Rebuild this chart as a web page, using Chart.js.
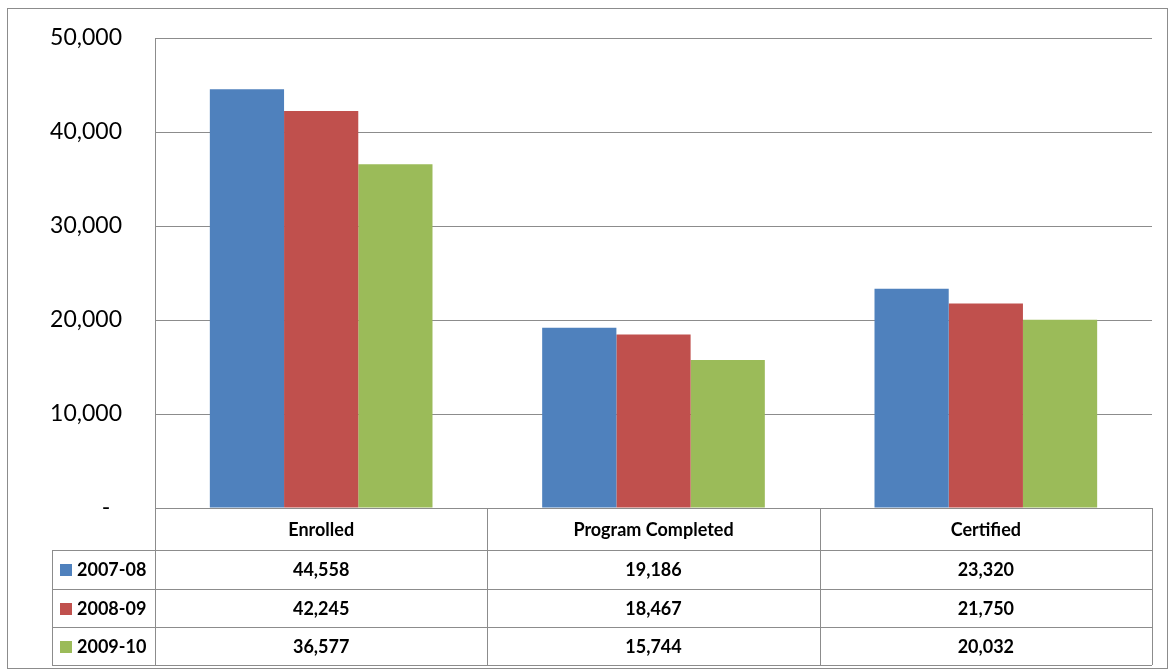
<!DOCTYPE html>
<html>
<head>
<meta charset="utf-8">
<script src="https://cdn.jsdelivr.net/npm/chart.js@4.4.0/dist/chart.umd.min.js"></script>
<style>
  html, body { margin: 0; padding: 0; background: #fff; }
  #wrap { width: 1169px; height: 670px; position: relative; }
</style>
</head>
<body>
<div id="wrap"><canvas id="chartProgramas"></canvas></div>
<script>
var CATEGORIAS = ['Enrolled', 'Program Completed', 'Certified'];
var SERIES = ['2007-08', '2008-09', '2009-10'];
var VALORES_0708 = [44558, 19186, 23320];
var VALORES_0809 = [42245, 18467, 21750];
var VALORES_0910 = [36577, 15744, 20032];
var Y_MAX = 50000;
var Y_PASO = 10000;

var COLORES = ['#4F81BD', '#C0504D', '#9BBB59'];
var GRIS = '#8c8c8c';
var FUENTE = 'Lato, "Open Sans", sans-serif';

function fmtNum(v) {
  if (v === 0) return '-';
  return v.toLocaleString('en-US');
}

// Marco exterior + tabla de datos bajo el eje X
var tablaDatos = {
  id: 'tablaDatos',
  afterDraw: function(chart) {
    var ctx = chart.ctx;
    var area = chart.chartArea;
    var xs = chart.scales.x;
    var ancho = (area.right - area.left) / CATEGORIAS.length;
    var filas = [area.bottom, 550, 588.5, 627, 665];
    var izqLeyenda = 52;
    var valores = [VALORES_0708, VALORES_0809, VALORES_0910];

    ctx.save();
    ctx.strokeStyle = GRIS;
    ctx.lineWidth = 1;

    // marco exterior
    ctx.strokeRect(7.5, 8.5, 1160, 660);

    // líneas horizontales
    ctx.beginPath();
    ctx.moveTo(area.left, filas[0] + 0.5);
    ctx.lineTo(area.right, filas[0] + 0.5);
    for (var r = 1; r < filas.length; r++) {
      ctx.moveTo(izqLeyenda, Math.round(filas[r]) + 0.5);
      ctx.lineTo(area.right, Math.round(filas[r]) + 0.5);
    }
    // líneas verticales
    ctx.moveTo(izqLeyenda + 0.5, filas[1]);
    ctx.lineTo(izqLeyenda + 0.5, filas[4]);
    for (var c = 0; c <= CATEGORIAS.length; c++) {
      var x = Math.round(area.left + c * ancho) + 0.5;
      ctx.moveTo(x, filas[0]);
      ctx.lineTo(x, filas[4]);
    }
    ctx.stroke();

    ctx.fillStyle = '#000';
    ctx.textAlign = 'center';
    ctx.textBaseline = 'middle';

    // encabezados
    ctx.font = 'bold 18px ' + FUENTE;
    CATEGORIAS.forEach(function(cat, i) {
      ctx.fillText(cat, xs.getPixelForValue(i), (filas[0] + filas[1]) / 2 + 1);
    });

    // filas de series
    SERIES.forEach(function(serie, s) {
      var yc = (filas[s + 1] + filas[s + 2]) / 2 + 1;
      ctx.fillStyle = COLORES[s];
      ctx.fillRect(60, Math.round(yc) - 6, 12, 12);
      ctx.fillStyle = '#000';
      ctx.textAlign = 'left';
      ctx.font = 'bold 18px ' + FUENTE;
      ctx.fillText(serie, 77, yc);
      ctx.textAlign = 'center';
      valores[s].forEach(function(v, i) {
        ctx.fillText(fmtNum(v), xs.getPixelForValue(i), yc);
      });
    });
    ctx.restore();
  }
};

var canvas = document.getElementById('chartProgramas');
new Chart(canvas, {
  type: 'bar',
  data: {
    labels: CATEGORIAS,
    datasets: [
      { label: SERIES[0], data: VALORES_0708, backgroundColor: COLORES[0], borderWidth: 0 },
      { label: SERIES[1], data: VALORES_0809, backgroundColor: COLORES[1], borderWidth: 0 },
      { label: SERIES[2], data: VALORES_0910, backgroundColor: COLORES[2], borderWidth: 0 }
    ]
  },
  options: {
    responsive: true,
    maintainAspectRatio: false,
    animation: false,
    layout: { padding: { left: 0, top: 38, right: 17, bottom: 162 } },
    datasets: { bar: { categoryPercentage: 0.67, barPercentage: 1 } },
    plugins: { legend: { display: false }, tooltip: { enabled: false } },
    scales: {
      x: { display: false },
      y: {
        min: 0,
        max: Y_MAX,
        afterFit: function(scale) {
          scale.width = 155;
          scale.paddingTop = 0;
          scale.paddingBottom = 0;
        },
        ticks: {
          stepSize: Y_PASO,
          padding: 33,
          color: '#000',
          font: { family: FUENTE, size: 23 },
          // formato contable: el guion del cero queda algo a la izquierda
          callback: function(v) { return v === 0 ? '-  ' : fmtNum(v); }
        },
        grid: { color: GRIS, lineWidth: 1, drawTicks: false },
        border: { display: true, color: GRIS, width: 1 }
      }
    }
  },
  plugins: [tablaDatos]
});
</script>
</body>
</html>
